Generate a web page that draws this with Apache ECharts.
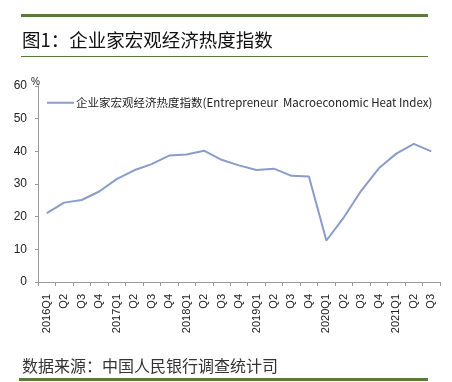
<!DOCTYPE html>
<html><head><meta charset="utf-8">
<script src="https://cdn.jsdelivr.net/npm/echarts@6/dist/echarts.min.js"></script>
<style>html,body{margin:0;padding:0;background:#fff;}#c{width:452px;height:382px;}</style>
</head><body><div id="c"></div>
<script>
var categories = ["2016Q1","Q2","Q3","Q4","2017Q1","Q2","Q3","Q4","2018Q1","Q2","Q3","Q4","2019Q1","Q2","Q3","Q4","2020Q1","Q2","Q3","Q4","2021Q1","Q2","Q3"];
var heatIndex = [21.1,24.3,25.1,27.7,31.5,34.2,36.1,38.7,39.0,40.2,37.4,35.7,34.3,34.7,32.5,32.3,12.7,19.8,28.0,34.8,39.3,42.3,40.0];
var seriesName = "企业家宏观经济热度指数(Entrepreneur  Macroeconomic Heat Index)";
var unitText = "%";
var titleText = "图1：企业家宏观经济热度指数";
var sourceText = "数据来源：中国人民银行调查统计司";
var green = "#5b7b3c";
var chart = echarts.init(document.getElementById('c'), null, {renderer:'canvas'});
chart.setOption({
  backgroundColor:'#fff',
  animation:false,
  grid:{left:38,right:12,top:86,bottom:100},
  legend:{show:true,left:42,top:92,itemWidth:27,itemHeight:2,itemGap:0,
    icon:'rect',
    textStyle:{fontSize:11.5,color:'#222',fontFamily:'"Noto Sans CJK SC", sans-serif',padding:[0,0,0,-3]},
    data:[{name:seriesName,icon:'rect'}]},
  xAxis:{type:'category',data:categories,boundaryGap:true,
    axisLine:{lineStyle:{color:'#999',width:1}},
    axisTick:{show:true,length:4,lineStyle:{color:'#999'}},
    axisLabel:{rotate:90,interval:0,fontSize:11,color:'#222',margin:12,fontFamily:'"Liberation Sans", Arial, sans-serif'}},
  yAxis:{type:'value',min:0,max:60,interval:10,
    axisLine:{show:true,lineStyle:{color:'#999',width:1}},
    axisTick:{show:true,length:3,lineStyle:{color:'#999'}},
    splitLine:{show:false},
    axisLabel:{fontSize:12,color:'#222',margin:11,fontFamily:'"Liberation Sans", Arial, sans-serif'}},
  series:[{name:seriesName,type:'line',data:heatIndex,symbol:'none',
    lineStyle:{color:'#8a9dc8',width:2},itemStyle:{color:'#8a9dc8'}}],
  graphic:[
    {type:'rect',shape:{x:21,y:14,width:407,height:3},style:{fill:green}},
    {type:'text',left:22,top:31,style:{text:titleText,fontSize:18.5,fill:'#111',fontFamily:'"Noto Sans CJK SC", sans-serif'}},
    {type:'rect',shape:{x:21,y:56,width:407,height:1},style:{fill:green}},
    {type:'text',left:31,top:77,style:{text:unitText,fontSize:10,fill:'#222',fontFamily:'"Liberation Sans", Arial, sans-serif'}},
    {type:'text',left:22,top:358,style:{text:sourceText,fontSize:16,fill:'#333',fontFamily:'"Noto Sans CJK SC", sans-serif'}},
    {type:'rect',shape:{x:19,y:378,width:409,height:3},style:{fill:green}}
  ]
});
</script></body></html>
